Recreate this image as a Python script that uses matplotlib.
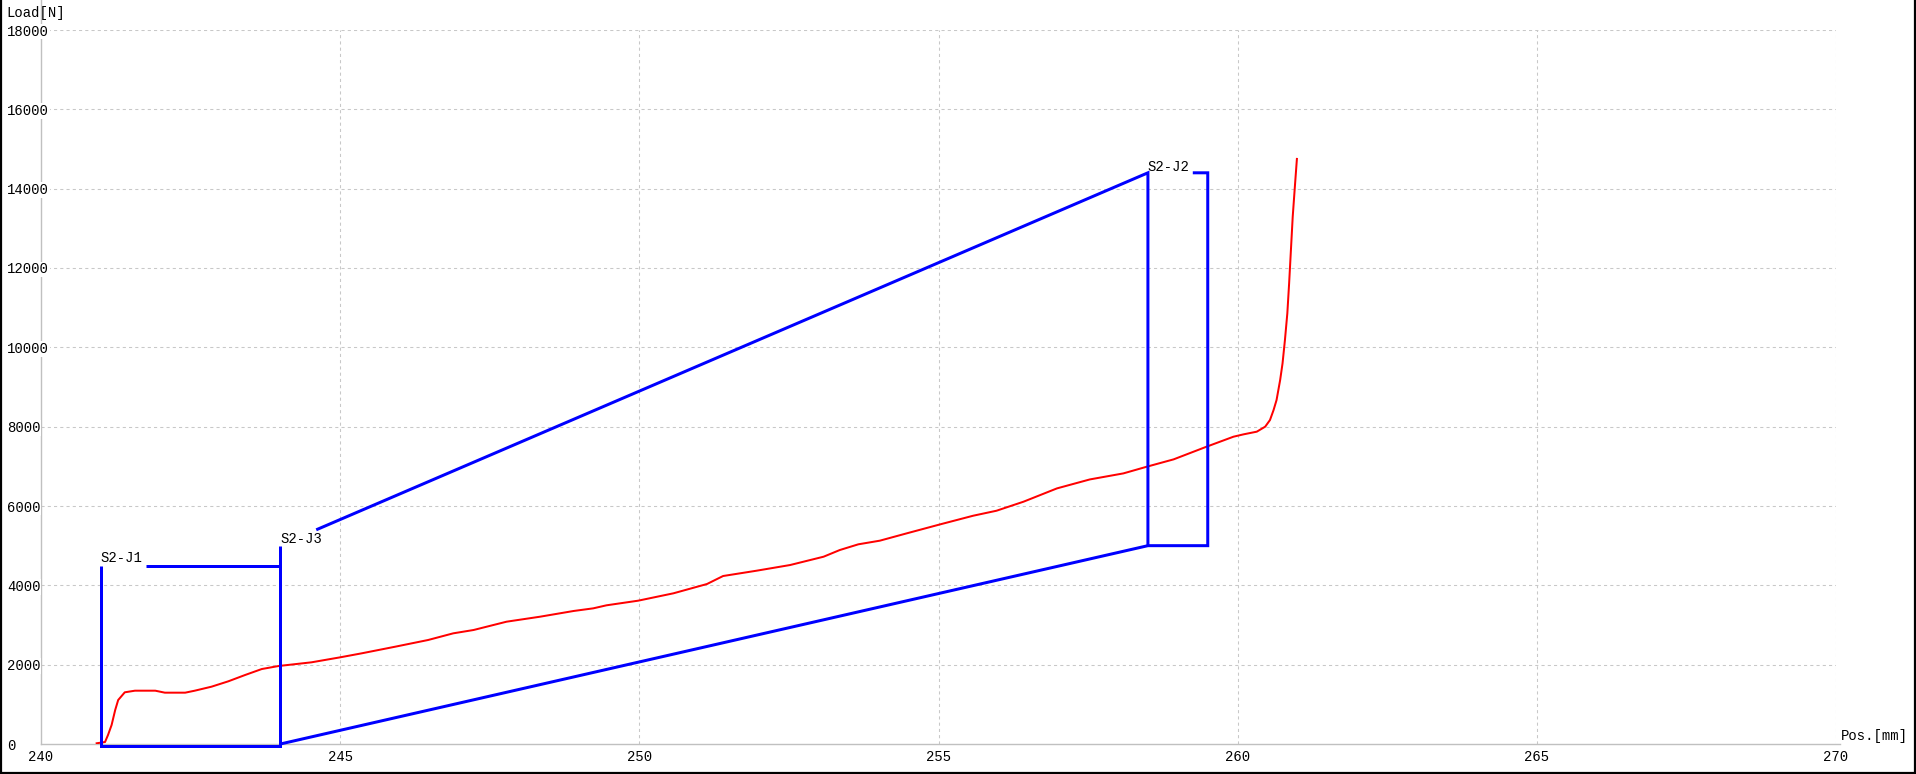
import matplotlib
matplotlib.use("Agg")
import matplotlib.pyplot as plt
from matplotlib.lines import Line2D

plt.rcParams['font.family'] = ['Liberation Mono', 'DejaVu Sans Mono']
plt.rcParams['font.size'] = 10

# ---- data ----
x_ticks = [240, 245, 250, 255, 260, 265, 270]
y_ticks = [0, 2000, 4000, 6000, 8000, 10000, 12000, 14000, 16000, 18000]

red_x = [240.93, 241.07, 241.12, 241.18, 241.24, 241.29, 241.40, 241.57, 241.91, 242.07,
         242.41, 242.57, 242.85, 243.13, 243.41, 243.69, 243.97, 244.52, 245.00, 245.36,
         245.92, 246.47, 246.89, 247.23, 247.78, 248.34, 248.90, 249.23, 249.45, 249.98,
         250.57, 251.13, 251.40, 251.96, 252.52, 253.08, 253.35, 253.66, 254.02, 254.47,
         255.03, 255.58, 255.97, 256.42, 256.98, 257.53, 258.09, 258.48, 258.93, 259.48,
         259.93, 260.10, 260.32, 260.46, 260.54, 260.60, 260.65, 260.71, 260.75, 260.79,
         260.83, 260.86, 260.89, 260.92, 260.96, 260.99]
red_y = [18, 50, 227, 479, 857, 1109, 1303, 1344, 1344, 1294,
         1294, 1344, 1445, 1580, 1739, 1890, 1966, 2059, 2185, 2286,
         2453, 2622, 2790, 2874, 3083, 3209, 3353, 3420, 3496, 3613,
         3799, 4033, 4235, 4369, 4512, 4722, 4890, 5034, 5126, 5311,
         5538, 5755, 5881, 6108, 6444, 6670, 6822, 6990, 7176, 7495,
         7747, 7807, 7874, 8000, 8167, 8419, 8672, 9176, 9596, 10184,
         10857, 11613, 12453, 13292, 14134, 14750]

j1_box_x = [241.0, 241.0, 244.0, 244.0]
j1_box_y = [4500, -60, -60, 5000]
j1_top_x = [241.75, 244.0]
j1_top_y = [4500, 4500]
lower_x = [244.0, 258.5, 259.5, 259.5, 259.25]
lower_y = [0, 5000, 5000, 14400, 14400]
upper_x = [244.6, 258.5, 258.5]
upper_y = [5400, 14400, 5000]

labels = ["S2-J1", "S2-J3", "S2-J2"]
label_x = [241.0, 244.0, 258.5]
label_y = [4580, 5070, 14450]

W, H = 1916, 774
fig = plt.figure(figsize=(W / 100, H / 100), dpi=100)
ax = fig.add_axes([41 / W, 30 / H, (1836 - 41) / W, (744 - 30) / H])
ax.set_xlim(240, 270)
ax.set_ylim(0, 18000)
for s in ax.spines.values():
    s.set_visible(False)

grid_c = '#c8c8c8'
ax.hlines(y_ticks[1:], 240, 270, colors=grid_c, linestyles=(0, (3, 3)), linewidth=0.75, zorder=0.3)
ax.vlines(x_ticks[1:], 0, 18000, colors=grid_c, linestyles=(0, (3, 3)), linewidth=0.75, zorder=0.3)

axis_c = '#c0c0c0'
ax.add_line(Line2D([0, 0], [0, 1 + 31 / 714], transform=ax.transAxes, color=axis_c,
                   linewidth=1.0, clip_on=False, zorder=0.4))
ax.add_line(Line2D([0, 1 + 4 / 1795], [0, 0], transform=ax.transAxes, color=axis_c,
                   linewidth=1.0, clip_on=False, zorder=0.4))

ax.set_axisbelow(True)
ax.set_xticks(x_ticks)
ax.set_xticklabels([str(v) for v in x_ticks])
ax.set_yticks(y_ticks)
ax.set_yticklabels([str(v) for v in y_ticks])
ax.tick_params(axis='x', length=0, pad=4, labelsize=10, colors='black')
ax.tick_params(axis='y', length=0, pad=24.5, labelsize=10, colors='black')
for lbl in ax.get_yticklabels():
    lbl.set_horizontalalignment('left')
    lbl.set_bbox(dict(facecolor='white', edgecolor='none', pad=0.5))

# data
ax.plot(red_x, red_y, color='#ff0000', linewidth=1.44, zorder=2)
blue_kw = dict(color='#0000ff', linewidth=2.16, clip_on=False, zorder=3,
               solid_joinstyle='miter', solid_capstyle='butt')
ax.plot(j1_box_x, j1_box_y, **blue_kw)
ax.plot(j1_top_x, j1_top_y, **blue_kw)
ax.plot(lower_x, lower_y, **blue_kw)
ax.plot(upper_x, upper_y, **blue_kw)

for t, x, y in zip(labels, label_x, label_y):
    ax.text(x, y, t, ha='left', va='baseline', fontsize=10, color='black', zorder=4)

fig.text(6 / W, 1 - 6 / H, "Load[N]", ha='left', va='top', fontsize=10)
fig.text(1841 / W, 31 / H, "Pos.[mm]", ha='left', va='bottom', fontsize=10)

# figure border (left, right, bottom)
for xs, ys in [([0.5 / W, 0.5 / W], [0, 1]), ([1 - 1 / W, 1 - 1 / W], [0, 1]),
               ([0, 1], [1 / H, 1 / H])]:
    fig.add_artist(Line2D(xs, ys, transform=fig.transFigure, color='black', linewidth=1.6))

fig.savefig("out.png", dpi=100, facecolor='white')
